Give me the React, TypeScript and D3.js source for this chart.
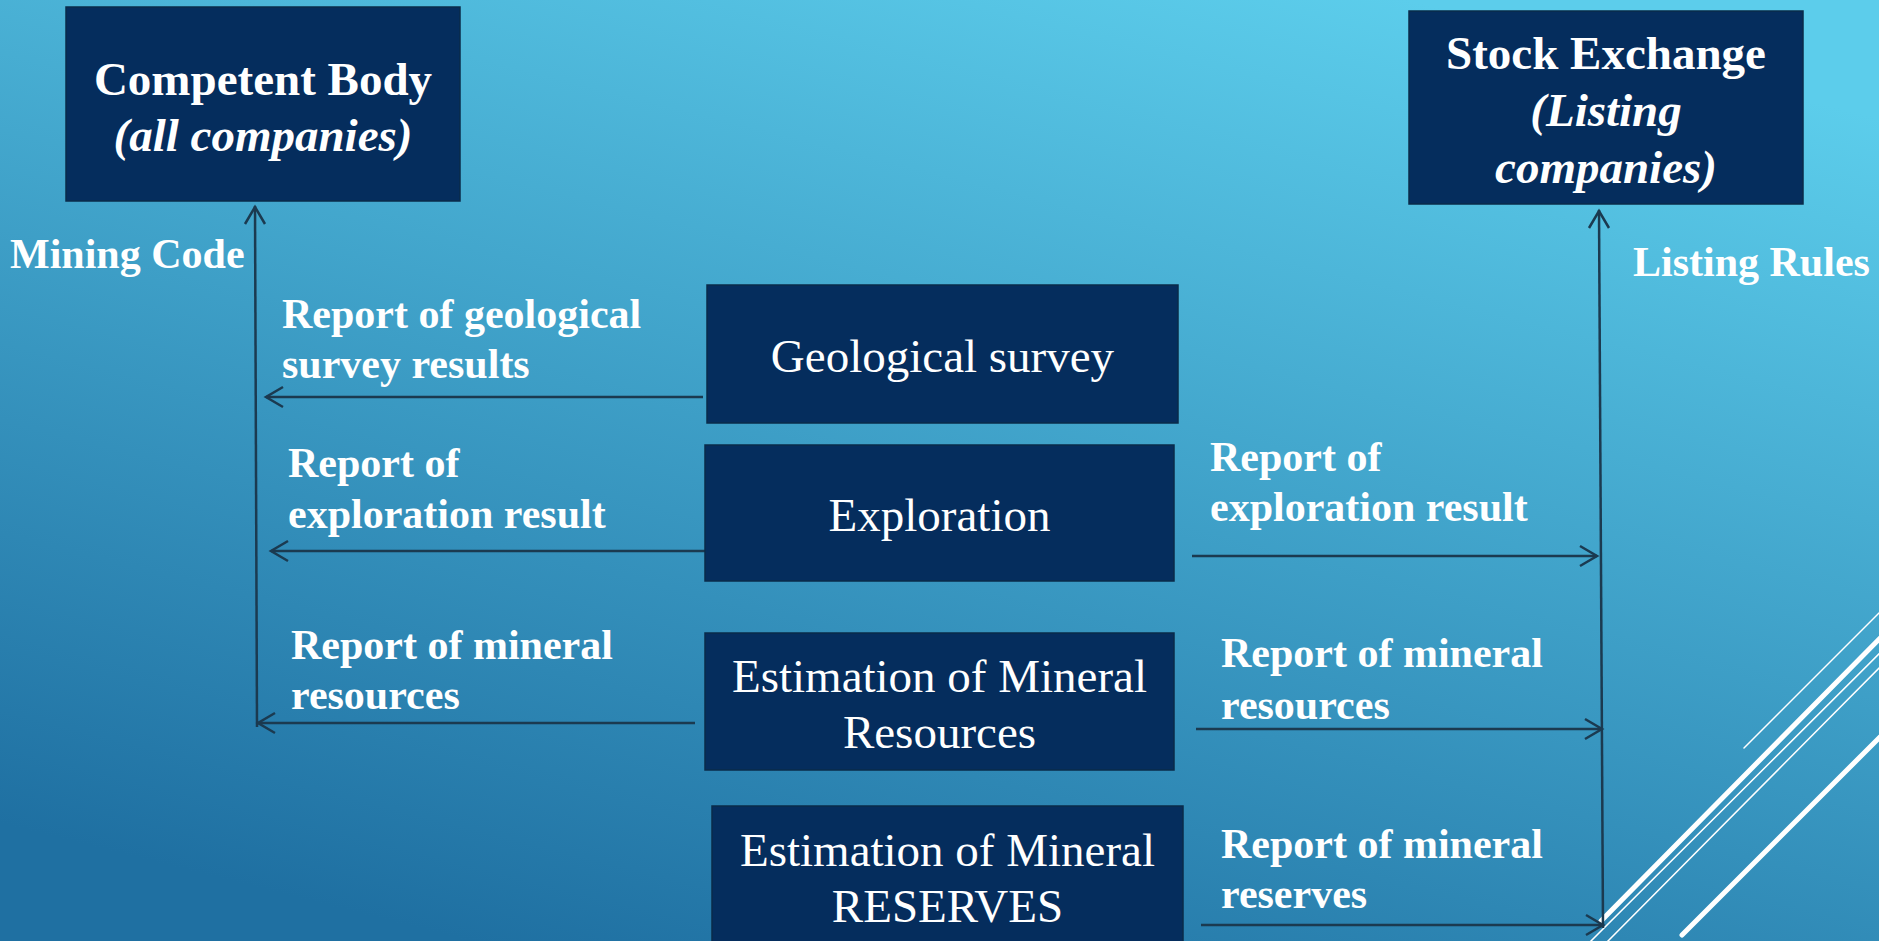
import React, { useEffect, useRef } from "react";
import * as d3 from "d3";

const W = 1879;
const H = 941;

// Text content
const bodyTitles = ["Competent Body", "Stock Exchange"];
const bodySubtitles = [["(all companies)"], ["(Listing", "companies)"]];
const ruleLabels = ["Mining Code", "Listing Rules"];
const stageLabels = [
  ["Geological survey"],
  ["Exploration"],
  ["Estimation of Mineral", "Resources"],
  ["Estimation of Mineral", "RESERVES"],
];
const leftReports = [
  ["Report of geological", "survey results"],
  ["Report of", "exploration result"],
  ["Report of mineral", "resources"],
];
const rightReports = [
  ["Report of", "exploration result"],
  ["Report of mineral", "resources"],
  ["Report of mineral", "reserves"],
];

// Layout (pixel geometry of the slide)
const bodyBoxes = [
  { x: 66, y: 7, w: 394, h: 194, lines: [79, 135] },
  { x: 1409, y: 11, w: 394, h: 193, lines: [53, 110, 167] },
];
const stageBoxes = [
  { x: 707, y: 285, w: 471, h: 138, lines: [356] },
  { x: 705, y: 445, w: 469, h: 136, lines: [515] },
  { x: 705, y: 633, w: 469, h: 137, lines: [676, 732] },
  { x: 712, y: 806, w: 471, h: 150, lines: [850, 906] },
];
const leftArrows = [
  { y: 397, x0: 703, x1: 266, tx: 282, ty: [314, 364] },
  { y: 551, x0: 707, x1: 271, tx: 288, ty: [463, 514] },
  { y: 723, x0: 695, x1: 258, tx: 291, ty: [645, 695] },
];
const rightArrows = [
  { y: 556, x0: 1192, x1: 1597, tx: 1210, ty: [457, 507] },
  { y: 729, x0: 1196, x1: 1602, tx: 1221, ty: [653, 705] },
  { y: 925, x0: 1201, x1: 1603, tx: 1221, ty: [844, 894] },
];
const decoLines = [
  { x1: 1744, y1: 748, x2: 1900, y2: 592, w: 1.5 },
  { x1: 1601, y1: 921, x2: 1900, y2: 618, w: 5 },
  { x1: 1590, y1: 942, x2: 1900, y2: 633, w: 1.5 },
  { x1: 1607, y1: 942, x2: 1900, y2: 647, w: 1.5 },
  { x1: 1682, y1: 935, x2: 1900, y2: 717, w: 5 },
];

const FONT = "'Liberation Serif', 'Times New Roman', serif";
const BOX_FILL = "#052d5d";
const LINE = "#1b3a50";

const Diagram = () => {
  const svgRef = useRef<SVGSVGElement>(null);

  useEffect(() => {
    document.body.style.margin = "0";
    document.body.style.overflow = "hidden";

    const svg = d3.select(svgRef.current).attr("width", W).attr("height", H);
    svg.selectAll("*").remove();

    // Background gradient
    const defs = svg.append("defs");
    const grad = defs
      .append("linearGradient")
      .attr("id", "bg")
      .attr("x1", "75%")
      .attr("y1", "0%")
      .attr("x2", "25%")
      .attr("y2", "100%");
    grad.append("stop").attr("offset", "0%").attr("stop-color", "#5ccdeb");
    grad.append("stop").attr("offset", "100%").attr("stop-color", "#1f70a2");

    svg.append("rect").attr("width", W).attr("height", H).attr("fill", "url(#bg)");

    // Decorative lines bottom-right
    svg
      .append("g")
      .selectAll("line")
      .data(decoLines)
      .join("line")
      .attr("x1", (d) => d.x1)
      .attr("y1", (d) => d.y1)
      .attr("x2", (d) => d.x2)
      .attr("y2", (d) => d.y2)
      .attr("stroke", "#fff")
      .attr("stroke-width", (d) => d.w)
      .attr("stroke-linecap", "round");

    const chevron = (tipX: number, tipY: number, dir: "left" | "right" | "up") => {
      const L = 17;
      const Wd = 10;
      if (dir === "left")
        return `M${tipX + L},${tipY - Wd}L${tipX},${tipY}L${tipX + L},${tipY + Wd}`;
      if (dir === "right")
        return `M${tipX - L},${tipY - Wd}L${tipX},${tipY}L${tipX - L},${tipY + Wd}`;
      return `M${tipX - Wd},${tipY + L}L${tipX},${tipY}L${tipX + Wd},${tipY + L}`;
    };

    const lines = svg.append("g").attr("stroke", LINE).attr("fill", "none").attr("stroke-width", 2.5);

    // Vertical trunks
    lines.append("line").attr("x1", 255).attr("y1", 206).attr("x2", 257).attr("y2", 727);
    lines.append("path").attr("d", chevron(255, 207, "up"));
    lines.append("line").attr("x1", 1599).attr("y1", 210).attr("x2", 1603).attr("y2", 928);
    lines.append("path").attr("d", chevron(1599, 211, "up"));

    // Horizontal arrows
    leftArrows.forEach((a) => {
      lines.append("line").attr("x1", a.x0).attr("y1", a.y).attr("x2", a.x1).attr("y2", a.y);
      lines.append("path").attr("d", chevron(a.x1, a.y, "left"));
    });
    rightArrows.forEach((a) => {
      lines.append("line").attr("x1", a.x0).attr("y1", a.y).attr("x2", a.x1).attr("y2", a.y);
      lines.append("path").attr("d", chevron(a.x1, a.y, "right"));
    });

    // Boxes
    const drawBox = (b: { x: number; y: number; w: number; h: number }) =>
      svg
        .append("rect")
        .attr("x", b.x)
        .attr("y", b.y)
        .attr("width", b.w)
        .attr("height", b.h)
        .attr("fill", BOX_FILL)
        .attr("stroke", "#0a2b4a")
        .attr("stroke-width", 1.5);

    bodyBoxes.forEach((b, i) => {
      drawBox(b);
      const rows = [bodyTitles[i], ...bodySubtitles[i]];
      rows.forEach((t, j) => {
        svg
          .append("text")
          .attr("x", b.x + b.w / 2)
          .attr("y", b.lines[j])
          .attr("text-anchor", "middle")
          .attr("dominant-baseline", "central")
          .style("font-family", FONT)
          .style("font-size", "47px")
          .style("font-weight", "700")
          .style("font-style", j === 0 ? "normal" : "italic")
          .attr("fill", "#fff")
          .text(t);
      });
    });

    stageBoxes.forEach((b, i) => {
      drawBox(b);
      stageLabels[i].forEach((t, j) => {
        svg
          .append("text")
          .attr("x", b.x + b.w / 2)
          .attr("y", b.lines[j])
          .attr("text-anchor", "middle")
          .attr("dominant-baseline", "central")
          .style("font-family", FONT)
          .style("font-size", "47px")
          .attr("fill", "#fff")
          .text(t);
      });
    });

    // Report labels
    const label = (x: number, y: number, t: string) =>
      svg
        .append("text")
        .attr("x", x)
        .attr("y", y)
        .attr("dominant-baseline", "central")
        .style("font-family", FONT)
        .style("font-size", "42px")
        .style("font-weight", "700")
        .attr("fill", "#fff")
        .text(t);

    leftArrows.forEach((a, i) => leftReports[i].forEach((t, j) => label(a.tx, a.ty[j], t)));
    rightArrows.forEach((a, i) => rightReports[i].forEach((t, j) => label(a.tx, a.ty[j], t)));

    label(10, 254, ruleLabels[0]);
    label(1633, 262, ruleLabels[1]);
  }, []);

  return <svg ref={svgRef} style={{ display: "block" }}></svg>;
};

export default function App() {
  return <Diagram />;
}
